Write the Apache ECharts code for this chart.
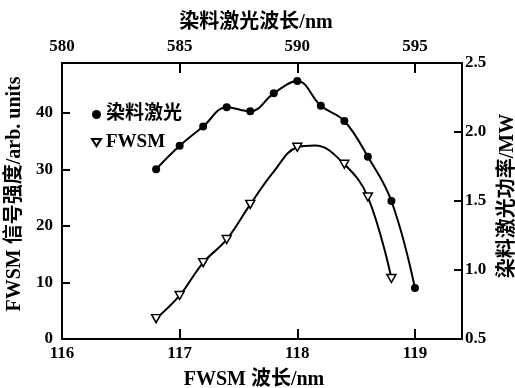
<!DOCTYPE html>
<html>
<head>
<meta charset="utf-8">
<script src="https://cdn.jsdelivr.net/npm/echarts@6/dist/echarts.min.js"></script>
<style>
html,body{margin:0;padding:0;background:#fff;}
#chart{width:515px;height:388px;}
</style>
</head>
<body>
<div id="chart"></div>
<script>
// ---- data ----
const dyeWavelength = [116.8, 117.0, 117.2, 117.4, 117.6, 117.8, 118.0, 118.2, 118.4, 118.6, 118.8, 119.0];
const dyePower      = [1.73, 1.90, 2.04, 2.18, 2.15, 2.28, 2.37, 2.19, 2.08, 1.82, 1.50, 0.87];
const fwsmWavelength = [116.8, 117.0, 117.2, 117.4, 117.6, 118.0, 118.4, 118.6, 118.8];
const fwsmSignal     = [3.6, 7.7, 13.5, 17.6, 23.8, 33.9, 30.9, 25.1, 10.7];
// points read off the drawn FWSM curve where the reference has no marker
const fwsmCurveWavelength = [117.8, 118.15];
const fwsmCurveSignal     = [29.6, 34.2];
const seriesNames = ['染料激光', 'FWSM'];
const bottomAxisName = 'FWSM 波长/nm';
const topAxisName = '染料激光波长/nm';
const leftAxisName = 'FWSM 信号强度/arb. units';
const rightAxisName = '染料激光功率/MW';

const FONT = "'Liberation Serif', 'Noto Sans CJK SC', serif";
const lbl = {color:'#000', fontFamily:FONT, fontSize:17, fontWeight:'bold'};
const nameStyle = {color:'#000', fontFamily:FONT, fontSize:20, fontWeight:'bold'};
const axLine = {show:true, lineStyle:{color:'#000', width:2}};
const tick = (len) => ({show:true, inside:true, length:len, lineStyle:{color:'#000', width:2}});

const fwsmPoints = fwsmWavelength.map((x,i)=>({value:[x, fwsmSignal[i]]}))
  .concat(fwsmCurveWavelength.map((x,i)=>({value:[x, fwsmCurveSignal[i]], symbol:'none'})))
  .sort((a,b)=>a.value[0]-b.value[0]);

const chart = echarts.init(document.getElementById('chart'), null, {renderer:'canvas'});
chart.setOption({
  backgroundColor:'#fff',
  animation:false,
  grid:{left:62, right:53, top:63, bottom:49, containLabel:false, outerBoundsMode:'none'},
  legend:{
    orient:'vertical', left:86, top:100, itemGap:9, itemWidth:9, itemHeight:9,
    textStyle:{color:'#000', fontFamily:FONT, fontSize:19, fontWeight:'bold'},
    data:[
      {name:seriesNames[0], icon:'circle'},
      {name:seriesNames[1], icon:'path://M0,0 L10,0 L5,8 Z'}
    ]
  },
  xAxis:[
    {type:'value', position:'bottom', min:116, max:119.4, interval:1,
     axisLine:axLine, axisTick:tick(10), splitLine:{show:false},
     axisLabel:Object.assign({margin:6, showMaxLabel:false}, lbl),
     name:bottomAxisName, nameLocation:'middle', nameGap:31, nameTextStyle:Object.assign({padding:[0,16,0,0]}, nameStyle)},
    {type:'value', position:'top', min:580, max:597, interval:5,
     axisLine:axLine, axisTick:tick(10), splitLine:{show:false},
     axisLabel:Object.assign({margin:8, showMaxLabel:false}, lbl),
     name:topAxisName, nameLocation:'middle', nameGap:30, nameTextStyle:Object.assign({padding:[0,12,0,0]}, nameStyle)}
  ],
  yAxis:[
    {type:'value', position:'left', min:0, max:48.8, interval:10,
     axisLine:axLine, axisTick:tick(8), splitLine:{show:false},
     axisLabel:Object.assign({margin:9, showMaxLabel:false}, lbl),
     name:leftAxisName, nameLocation:'middle', nameGap:34, nameRotate:90,
     nameTextStyle:Object.assign({padding:[0,0,0,14]}, nameStyle)},
    {type:'value', position:'right', min:0.5, max:2.5, interval:0.5,
     axisLine:axLine, axisTick:tick(8), splitLine:{show:false},
     axisLabel:Object.assign({margin:3, formatter:v=>v.toFixed(1)}, lbl),
     name:rightAxisName, nameLocation:'middle', nameGap:36, nameRotate:90,
     nameTextStyle:Object.assign({padding:[0,0,0,10]}, nameStyle)}
  ],
  series:[
    {name:seriesNames[0], type:'line', xAxisIndex:0, yAxisIndex:1, smooth:0.4,
     data:dyeWavelength.map((x,i)=>[x, dyePower[i]]),
     symbol:'circle', symbolSize:8,
     itemStyle:{color:'#000'}, lineStyle:{color:'#000', width:2}},
    {name:seriesNames[1], type:'line', xAxisIndex:0, yAxisIndex:0, smooth:0.4,
     data:fwsmPoints,
     symbol:'triangle', symbolRotate:180, symbolSize:[9,8],
     itemStyle:{color:'#fff', borderColor:'#000', borderWidth:1.5}, lineStyle:{color:'#000', width:2}}
  ]
});
</script>
</body>
</html>
